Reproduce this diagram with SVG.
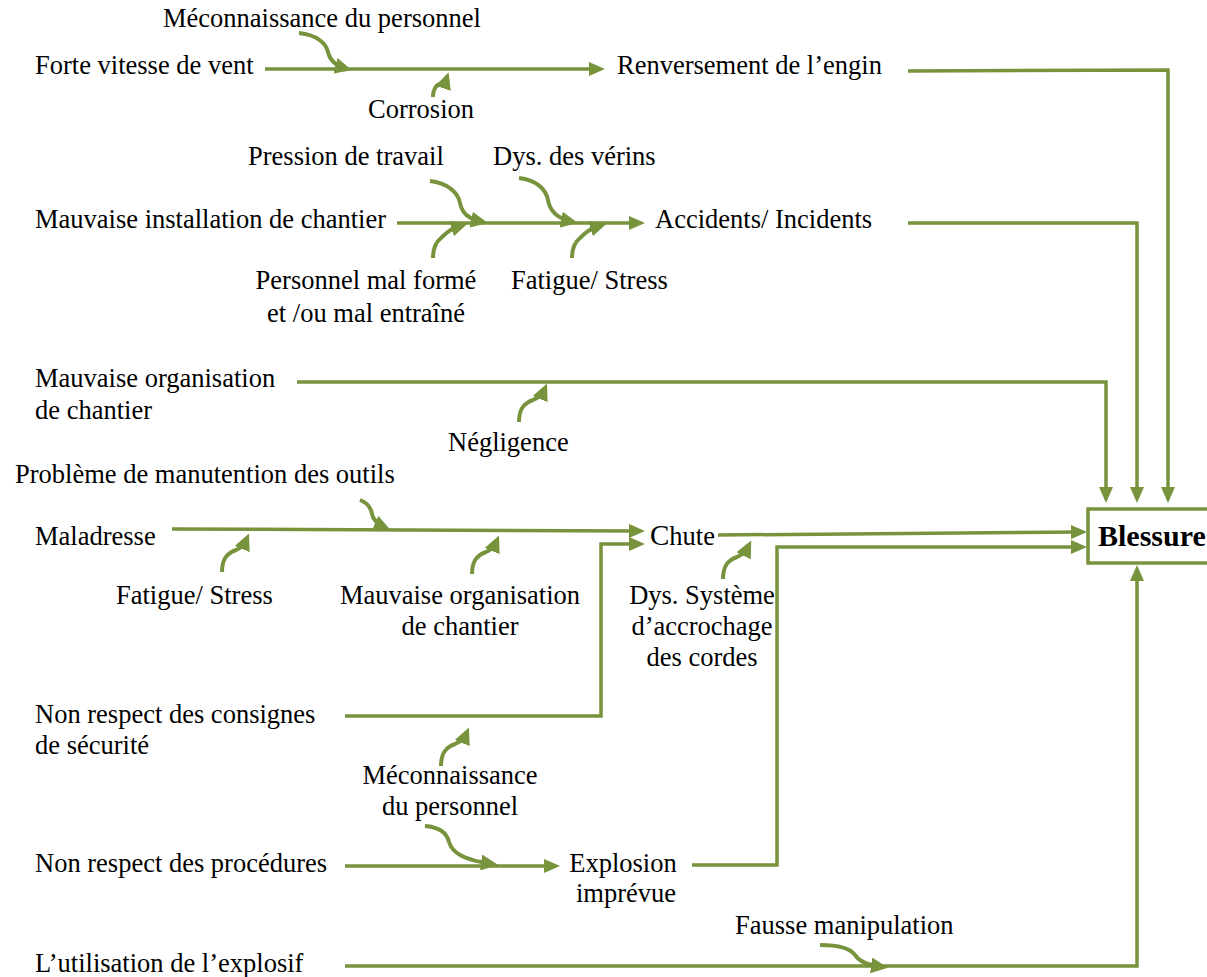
<svg xmlns="http://www.w3.org/2000/svg" width="1207" height="977" viewBox="0 0 1207 977">
<style>
text{font-family:"Liberation Serif","Times New Roman",serif;font-size:26.5px;fill:#000}
.b{font-weight:bold;font-size:30px}
.c{text-anchor:middle}
.ln{fill:none;stroke:#77933C;stroke-width:3.5;marker-end:url(#ah)}
.cv{fill:none;stroke:#77933C;stroke-width:4;marker-end:url(#ah2)}
.bx{fill:#fff;stroke:#77933C;stroke-width:3.5}
</style>
<defs>
<marker id="ah" viewBox="0 0 16 14" refX="12" refY="7" markerWidth="16" markerHeight="14" markerUnits="userSpaceOnUse" orient="auto">
<path d="M0,0 L16,7 L0,14 z" fill="#77933C"/>
</marker>
<marker id="ah2" viewBox="0 0 17 16" refX="12" refY="8" markerWidth="17" markerHeight="16" markerUnits="userSpaceOnUse" orient="auto">
<path d="M0,0 L17,8 L0,16 z" fill="#77933C"/>
</marker>
</defs>
<rect width="1207" height="977" fill="#fff"/>
<g id="connectors">
<path class="ln" d="M265,69 H601"/>
<path class="ln" d="M908,71 L1168,70 V499"/>
<path class="ln" d="M397,223 H641"/>
<path class="ln" d="M908,223 H1137 V499"/>
<path class="ln" d="M297,382 H1106 V499"/>
<path class="ln" d="M172,529 L641,531"/>
<path class="ln" d="M345,716 H601 V544 H641"/>
<path class="ln" d="M718,535 L1083,532"/>
<path class="ln" d="M692,865 H777 V547 H1083"/>
<path class="ln" d="M345,866 H556"/>
<path class="ln" d="M345,966 H1137 V569"/>
<path class="cv" d="M299,33 C318,35 326,44 328,52 C330,61 336,66 347,69"/>
<path class="cv" d="M433,97 C433,89 436,85 441,83 C444,82 446,80 447,77"/>
<path class="cv" d="M430,181 C447,183 458,192 460,203 C462,213 468,219 483,222"/>
<path class="cv" d="M433,258 C433,247 436,242 441,238 C446,233 450,229 463,225"/>
<path class="cv" d="M519,178 C536,180 546,189 548,200 C550,212 558,219 573,222"/>
<path class="cv" d="M572,258 C572,247 575,242 580,238 C585,233 589,229 602,225"/>
<path class="cv" d="M519,422 C519,409 524,403 533,400 C538,398 542,395 545,388"/>
<path class="cv" d="M360,500 C368,503 371,508 372,514 C373,520 377,524 386,528"/>
<path class="cv" d="M222,572 C222,559 227,553 236,550 C241,548 244,545 247,538"/>
<path class="cv" d="M472,574 C472,561 477,555 486,552 C491,550 494,547 497,540"/>
<path class="cv" d="M723,579 C723,566 728,560 737,557 C742,555 746,551 749,545"/>
<path class="cv" d="M441,766 C441,753 446,747 455,744 C460,742 464,739 467,732"/>
<path class="cv" d="M425,826 C440,827 447,834 449,842 C452,852 462,860 493,864"/>
<path class="cv" d="M820,945 C838,945 850,948 855,955 C860,962 868,965 883,967"/>
</g>
<g id="n-meconnaissance1"><text x="163" y="27">Méconnaissance du personnel</text></g>
<g id="n-vent"><text x="35" y="74">Forte vitesse de vent</text></g>
<g id="n-renversement"><text x="617" y="74">Renversement de l’engin</text></g>
<g id="n-corrosion"><text x="421" y="118" class="c">Corrosion</text></g>
<g id="n-pression"><text x="248" y="165">Pression de travail</text></g>
<g id="n-verins"><text x="493" y="165">Dys. des vérins</text></g>
<g id="n-installation"><text x="35" y="228">Mauvaise installation de chantier</text></g>
<g id="n-accidents"><text x="655" y="228">Accidents/ Incidents</text></g>
<g id="n-personnel"><text x="366" y="289" class="c">Personnel mal formé</text><text x="366" y="322" class="c">et /ou mal entraîné</text></g>
<g id="n-fatigue1"><text x="511" y="289">Fatigue/ Stress</text></g>
<g id="n-organisation1"><text x="35" y="387">Mauvaise organisation</text><text x="35" y="419">de chantier</text></g>
<g id="n-negligence"><text x="448" y="451">Négligence</text></g>
<g id="n-manutention"><text x="15" y="483">Problème de manutention des outils</text></g>
<g id="n-maladresse"><text x="35" y="545">Maladresse</text></g>
<g id="n-chute"><text x="650" y="545"><tspan font-size="29">C</tspan>hute</text></g>
<g id="n-blessure"><rect class="bx" x="1088" y="509" width="130" height="54"/><text x="1098" y="546" class="b">Blessure</text></g>
<g id="n-fatigue2"><text x="116" y="604">Fatigue/ Stress</text></g>
<g id="n-organisation2"><text x="460" y="604" class="c">Mauvaise organisation</text><text x="460" y="635" class="c">de chantier</text></g>
<g id="n-accrochage"><text x="702" y="604" class="c">Dys. Système</text><text x="702" y="635" class="c">d’accrochage</text><text x="702" y="666" class="c">des cordes</text></g>
<g id="n-consignes"><text x="35" y="723">Non respect des consignes</text><text x="35" y="754">de sécurité</text></g>
<g id="n-meconnaissance2"><text x="450" y="784" class="c">Méconnaissance</text><text x="450" y="815" class="c">du personnel</text></g>
<g id="n-procedures"><text x="35" y="872">Non respect des procédures</text></g>
<g id="n-explosion"><text x="623" y="872" class="c">Explosion</text><text x="626" y="902" class="c">imprévue</text></g>
<g id="n-fausse"><text x="735" y="934">Fausse manipulation</text></g>
<g id="n-explosif"><text x="35" y="972">L’utilisation de l’explosif</text></g>
</svg>
